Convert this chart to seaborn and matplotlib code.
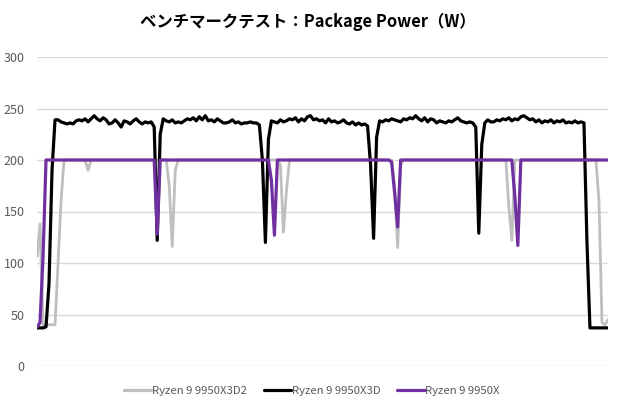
import pandas as pd
import matplotlib
matplotlib.use("Agg")
import matplotlib.pyplot as plt
import seaborn as sns

# Package power samples (W), one per time step
samples = list(range(191))

power_x3d2 = [
    106, 138, 40, 40, 40, 40, 40, 100, 160, 200,
    200, 200, 200, 200, 200, 200, 200, 190, 200, 200,
    200, 200, 200, 200, 200, 200, 200, 200, 200, 200,
    200, 200, 200, 200, 200, 200, 200, 200, 200, 200,
    200, 200, 200, 200, 175, 116, 190, 200, 200, 200,
    200, 200, 200, 200, 200, 200, 200, 200, 200, 200,
    200, 200, 200, 200, 200, 200, 200, 200, 200, 200,
    200, 200, 200, 200, 200, 200, 200, 200, 200, 200,
    200, 195, 130, 170, 200, 200, 200, 200, 200, 200,
    200, 200, 200, 200, 200, 200, 200, 200, 200, 200,
    200, 200, 200, 200, 200, 200, 200, 200, 200, 200,
    200, 200, 200, 200, 200, 200, 200, 200, 200, 175,
    115, 195, 200, 200, 200, 200, 200, 200, 200, 200,
    200, 200, 200, 200, 200, 200, 200, 200, 200, 200,
    200, 200, 200, 200, 200, 200, 200, 200, 200, 200,
    200, 200, 200, 200, 200, 200, 200, 155, 122, 200,
    200, 200, 200, 200, 200, 200, 200, 200, 200, 200,
    200, 200, 200, 200, 200, 200, 200, 200, 200, 200,
    200, 200, 200, 200, 200, 200, 200, 160, 42, 40,
    45,
]

power_x3d = [
    37, 37, 37, 38, 80, 190, 239, 239, 237, 236,
    235, 236, 235, 238, 239, 238, 240, 237, 240, 243,
    240, 238, 241, 239, 235, 236, 239, 236, 232, 238,
    237, 235, 238, 240, 237, 235, 237, 236, 237, 232,
    122, 225, 240, 238, 237, 239, 236, 237, 236, 238,
    240, 239, 241, 238, 242, 239, 243, 238, 239, 237,
    240, 238, 236, 236, 237, 239, 236, 237, 235, 236,
    236, 237, 236, 236, 234, 200, 120, 220, 238, 237,
    236, 239, 237, 238, 240, 239, 241, 237, 240, 238,
    242, 243, 239, 240, 238, 239, 236, 240, 237, 238,
    236, 237, 239, 236, 235, 237, 234, 236, 234, 235,
    233, 195, 124, 222, 238, 237, 239, 238, 240, 239,
    238, 237, 240, 239, 241, 240, 243, 240, 238, 241,
    237, 240, 239, 236, 238, 237, 236, 238, 237, 239,
    241, 238, 237, 236, 237, 236, 232, 129, 215, 236,
    239, 237, 237, 239, 238, 240, 239, 241, 238, 240,
    239, 242, 243, 241, 239, 240, 237, 239, 236, 238,
    237, 239, 236, 238, 237, 239, 236, 237, 236, 238,
    236, 237, 236, 120, 37, 37, 37, 37, 37, 37,
    37,
]

power_x = [
    38, 42, 105, 200, 200, 200, 200, 200, 200, 200,
    200, 200, 200, 200, 200, 200, 200, 200, 200, 200,
    200, 200, 200, 200, 200, 200, 200, 200, 200, 200,
    200, 200, 200, 200, 200, 200, 200, 200, 200, 200,
    128, 200, 200, 200, 200, 200, 200, 200, 200, 200,
    200, 200, 200, 200, 200, 200, 200, 200, 200, 200,
    200, 200, 200, 200, 200, 200, 200, 200, 200, 200,
    200, 200, 200, 200, 200, 200, 200, 200, 180, 127,
    200, 200, 200, 200, 200, 200, 200, 200, 200, 200,
    200, 200, 200, 200, 200, 200, 200, 200, 200, 200,
    200, 200, 200, 200, 200, 200, 200, 200, 200, 200,
    200, 200, 200, 200, 200, 200, 200, 200, 198, 168,
    135, 200, 200, 200, 200, 200, 200, 200, 200, 200,
    200, 200, 200, 200, 200, 200, 200, 200, 200, 200,
    200, 200, 200, 200, 200, 200, 200, 200, 200, 200,
    200, 200, 200, 200, 200, 200, 200, 200, 200, 165,
    117, 200, 200, 200, 200, 200, 200, 200, 200, 200,
    200, 200, 200, 200, 200, 200, 200, 200, 200, 200,
    200, 200, 200, 200, 200, 200, 200, 200, 200, 200,
    200,
]

series_names = ["Ryzen 9 9950X3D2", "Ryzen 9 9950X3D", "Ryzen 9 9950X"]
series_colors = ["#bfbfbf", "#000000", "#7030a0"]
y_ticks = [0, 50, 100, 150, 200, 250, 300]
title = "ベンチマークテスト：Package Power（W）"

df = pd.concat([
    pd.DataFrame({"sample": samples, "power": vals, "model": name})
    for name, vals in zip(series_names, [power_x3d2, power_x3d, power_x])
], ignore_index=True)

sns.set_theme(style="white")
plt.rcParams['font.family'] = ['Noto Sans CJK JP', 'DejaVu Sans']

fig = plt.figure(figsize=(6.2, 4.05), dpi=100)
ax = fig.add_axes([37 / 620, 1 - 366 / 405, 571 / 620, 309 / 405])

sns.lineplot(data=df, x="sample", y="power", hue="model", hue_order=series_names,
             palette=series_colors, estimator=None, linewidth=2.3, ax=ax)
for line in ax.lines[:1]:
    line.set_linewidth(2.0)

ax.set_xlim(0, 190)
ax.set_ylim(0, 300)
ax.set_yticks(y_ticks)
ax.set_xticks([])
ax.set_xlabel("")
ax.set_ylabel("")
ax.yaxis.grid(True, color="#d9d9d9", linewidth=1)
ax.set_axisbelow(True)
for s in ax.spines.values():
    s.set_visible(False)
ax.tick_params(axis="y", length=0, pad=9, labelsize=9, labelcolor="#595959")

handles, labels = ax.get_legend_handles_labels()
ax.get_legend().remove()
leg = fig.legend(handles, labels, loc="center", bbox_to_anchor=(0.503, 1 - 391 / 405),
                 ncol=3, frameon=False, fontsize=8.2, handlelength=2.4,
                 handletextpad=0.05, columnspacing=1.5)
for t in leg.get_texts():
    t.set_color("#595959")

fig.text(0.497, 1 - 22 / 405, title, ha="center", va="center",
         fontsize=11.8, fontweight="bold", color="#000000")

fig.savefig("out.png", dpi=100)
